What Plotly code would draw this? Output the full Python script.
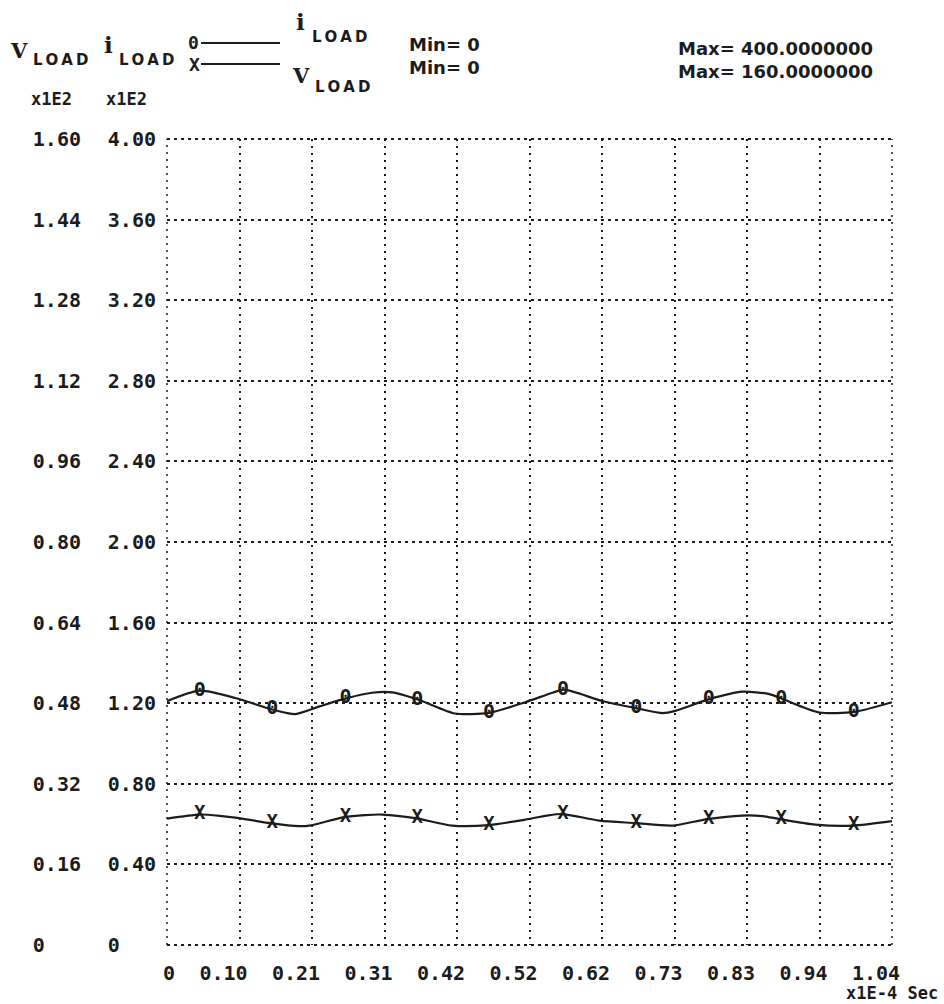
import plotly.graph_objects as go

# ---- data (time in x1E-4 s, i_LOAD in A, V_LOAD in V) ----
t_i = [0, 0.047, 0.098, 0.151, 0.184, 0.218, 0.258, 0.294, 0.323, 0.362, 0.413, 0.462, 0.514,
       0.553, 0.570, 0.624, 0.675, 0.711, 0.729, 0.778, 0.825, 0.864, 0.883, 0.936, 0.986, 1.04]
i_load = [121.0, 126.2, 122.6, 116.9, 114.6, 118.3, 122.5, 125.2, 125.4, 121.6, 114.9, 115.2, 120.5,
          125.2, 126.7, 121.1, 117.4, 115.1, 116.2, 122.0, 125.7, 124.5, 122.1, 115.4, 115.7, 120.5]

t_v = [0, 0.047, 0.079, 0.098, 0.148, 0.189, 0.204, 0.254, 0.284, 0.309, 0.356, 0.409, 0.462,
       0.514, 0.545, 0.567, 0.620, 0.672, 0.725, 0.775, 0.825, 0.854, 0.879, 0.930, 0.983, 1.04]
v_load = [25.1, 25.9, 25.6, 25.3, 24.2, 23.6, 23.7, 25.4, 25.8, 25.9, 25.2, 23.7, 23.8,
          24.9, 25.7, 26.0, 24.7, 24.2, 23.7, 25.0, 25.7, 25.6, 25.0, 23.9, 23.7, 24.6]

t_mark = [0.047, 0.151, 0.256, 0.359, 0.462, 0.568, 0.673, 0.777, 0.881, 0.985]
i_mark = [126.2, 116.9, 122.5, 121.6, 115.2, 126.7, 117.4, 122.0, 122.1, 115.7]
v_mark = [25.9, 24.2, 25.4, 25.2, 23.8, 26.0, 24.2, 25.0, 25.0, 23.7]

x_ticks = [0, 0.104, 0.208, 0.312, 0.416, 0.52, 0.624, 0.728, 0.832, 0.936, 1.04]
x_labels = ["\u00a0\u00a0\u00a00", "0.10", "0.21", "0.31", "0.42", "0.52", "0.62", "0.73", "0.83", "0.94", "1.04"]
i_ticks = [0, 40, 80, 120, 160, 200, 240, 280, 320, 360, 400]
i_labels = ["0\u00a0\u00a0\u00a0", "0.40", "0.80", "1.20", "1.60", "2.00", "2.40", "2.80", "3.20", "3.60", "4.00"]
v_ticks = [0, 16, 32, 48, 64, 80, 96, 112, 128, 144, 160]
v_labels = ["0\u00a0\u00a0\u00a0", "0.16", "0.32", "0.48", "0.64", "0.80", "0.96", "1.12", "1.28", "1.44", "1.60"]

# ---- layout geometry (pixels) ----
W, H = 944, 1004
L, R, T, B = 167, 52, 139, 59
PW, PH = W - L - R, H - T - B
INK = "#1c1c1c"
MONO = "DejaVu Sans Mono"
SANS = "DejaVu Sans"
SERIF = "DejaVu Serif"
XDASH = "2px,5px"
YDASH = "3px,4px"


def px(x):
    return (x - L) / PW


def py(y):
    return (H - B - y) / PH


fig = go.Figure()

fig.add_trace(go.Scatter(x=t_i, y=i_load, mode="lines", yaxis="y",
                         line=dict(color=INK, width=2.2, shape="spline", smoothing=0.7),
                         showlegend=False, hoverinfo="skip"))
fig.add_trace(go.Scatter(x=t_v, y=v_load, mode="lines", yaxis="y2",
                         line=dict(color=INK, width=2.2, shape="spline", smoothing=0.7),
                         showlegend=False, hoverinfo="skip"))
fig.add_trace(go.Scatter(x=t_mark, y=i_mark, mode="text", yaxis="y",
                         text=["0"] * len(t_mark), textposition="middle center",
                         textfont=dict(family=MONO, size=20, color=INK, weight="bold"),
                         showlegend=False, hoverinfo="skip"))
fig.add_trace(go.Scatter(x=t_mark, y=v_mark, mode="text", yaxis="y2",
                         text=["X"] * len(t_mark), textposition="middle center",
                         textfont=dict(family=MONO, size=19, color=INK, weight="bold"),
                         showlegend=False, hoverinfo="skip"))

tickfont = dict(family=MONO, size=20, color=INK, weight="bold")

fig.update_layout(
    width=W, height=H,
    margin=dict(l=L, r=R, t=T, b=B, autoexpand=False),
    paper_bgcolor="white", plot_bgcolor="white",
    xaxis=dict(range=[0, 1.04], tickvals=x_ticks, ticktext=x_labels, tickfont=tickfont,
               showgrid=True, gridcolor=INK, gridwidth=1.5, griddash=XDASH,
               zeroline=False, showline=False, ticks="", ticklabelshift=-16, ticklabelstandoff=14),
    yaxis=dict(range=[0, 400], tickvals=i_ticks, ticktext=i_labels, tickfont=tickfont,
               showgrid=True, gridcolor=INK, gridwidth=2, griddash=YDASH,
               zeroline=False, showline=False, ticks="", ticklabelstandoff=10),
    yaxis2=dict(range=[0, 160], tickvals=v_ticks, ticktext=v_labels, tickfont=tickfont,
                overlaying="y", side="left", showgrid=False, zeroline=False,
                showline=False, ticks="", ticklabelstandoff=85),
)

ann = []


def text(s, x, y, size, family=MONO, xanchor="center"):
    ann.append(dict(text=s, x=px(x), y=py(y), xref="paper", yref="paper", showarrow=False,
                    xanchor=xanchor, yanchor="middle",
                    font=dict(family=family, size=size, color=INK, weight="bold")))


SP = "\u2009"
LOAD = SP.join("LOAD")
# axis header labels
text("V", 19, 50, 21, SERIF)
text(LOAD, 31, 60, 15, SANS, "left")
text("i", 108, 45, 23, SERIF)
text(LOAD, 117, 60, 15, SANS, "left")
text("x1E2", 52, 99, 17)
text("x1E2", 126, 99, 17)
# legend
text("0", 193, 43, 18)
text("X", 194, 64, 18)
text("i", 300, 21, 23, SERIF)
text(LOAD, 310, 37, 15, SANS, "left")
text("V", 301, 76, 21, SERIF)
text(LOAD, 313, 87, 15, SANS, "left")
text("Min= 0", 407, 45, 18, SANS, "left")
text("Min= 0", 407, 67, 18, SANS, "left")
text("Max= 400.0000000", 676, 48, 18, SANS, "left")
text("Max= 160.0000000", 676, 71, 18, SANS, "left")
text("x1E-4 Sec", 940, 993, 17, MONO, "right")

fig.update_layout(annotations=ann)

shapes = []
for yy in (43, 64):
    shapes.append(dict(type="line", xref="paper", yref="paper", x0=px(201), x1=px(280),
                       y0=py(yy), y1=py(yy), line=dict(color=INK, width=1.8)))
# dotted frame of the plotting area
for yy in (0, 1):
    shapes.append(dict(type="line", xref="paper", yref="paper", x0=0, x1=1, y0=yy, y1=yy,
                       line=dict(color=INK, width=2, dash=YDASH)))
for xx in (0, 1):
    shapes.append(dict(type="line", xref="paper", yref="paper", x0=xx, x1=xx, y0=0, y1=1,
                       line=dict(color=INK, width=1.5, dash=XDASH)))
fig.update_layout(shapes=shapes)

fig.write_html("out.html")
